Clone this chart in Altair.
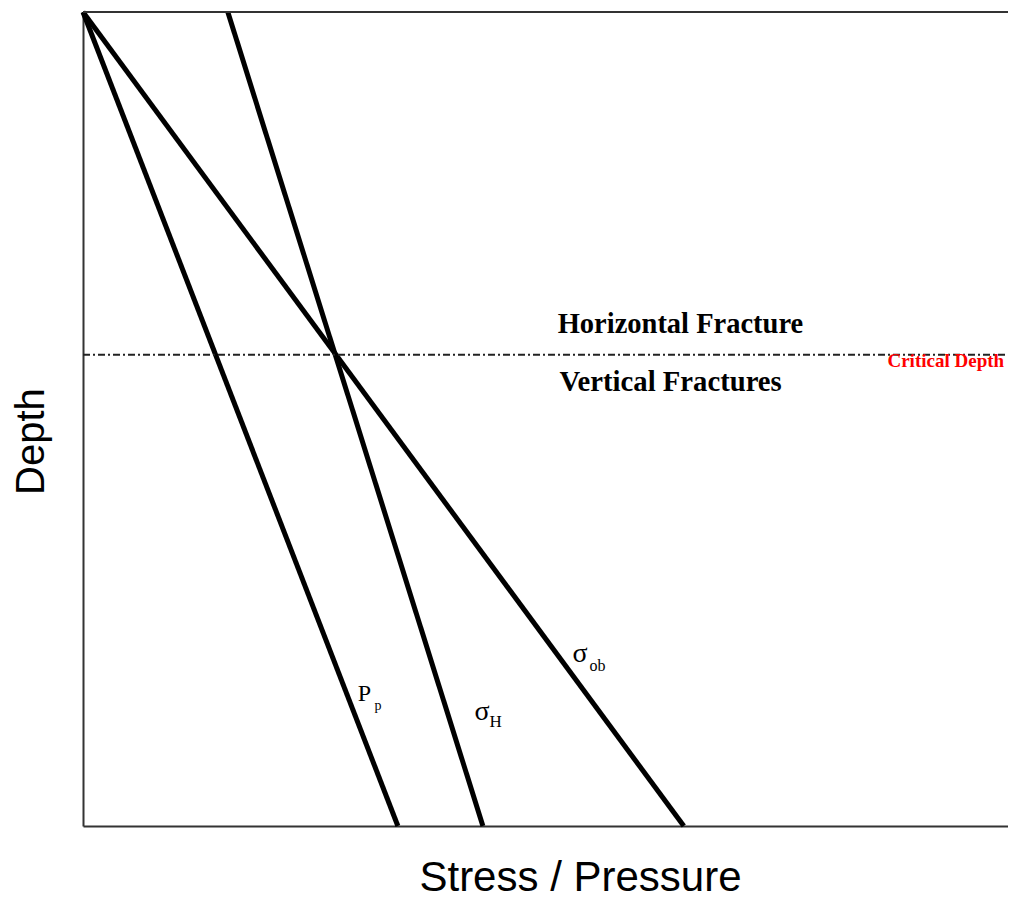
import altair as alt
import pandas as pd

# ---- data ----
series = ["Pp", "sigma_H", "sigma_ob"]
stress_top = [0.0, 15.5, 0.0]        # stress at surface
stress_bottom = [33.7, 42.8, 64.3]   # stress at max depth
depth_top = [0.0, 0.0, 0.0]
depth_bottom = [100.0, 100.0, 100.0]
critical_depth = [42.1]

rows = []
for s, x0, x1, d0, d1 in zip(series, stress_top, stress_bottom, depth_top, depth_bottom):
    rows.append({"series": s, "stress": x0, "depth": d0, "ord": 0})
    rows.append({"series": s, "stress": x1, "depth": d1, "ord": 1})
lines_df = pd.DataFrame(rows)
crit_df = pd.DataFrame({"depth": critical_depth, "x0": [0.0], "x1": [99.0]})

W, H = 925, 814
xs = alt.Scale(domain=[0, 99], nice=False, zero=False)
ys = alt.Scale(domain=[0, 100], reverse=True, nice=False)

xax = alt.Axis(title="Stress / Pressure", labels=False, ticks=False, grid=False,
               domainColor="#333", domainWidth=2,
               titleFont="Liberation Sans", titleFontSize=42, titleFontWeight="normal",
               titleColor="black", titleBaseline="alphabetic", titleAlign="center",
               titleX=497, titleY=64)
yax = alt.Axis(title="Depth", labels=False, ticks=False, grid=False,
               domainColor="#333", domainWidth=2,
               titleFont="Liberation Sans", titleFontSize=40, titleFontWeight="normal",
               titleColor="black", titleBaseline="alphabetic", titleAlign="center",
               titleAngle=270, titleX=-40, titleY=429)

lines = alt.Chart(lines_df).mark_line(color="black", strokeWidth=5).encode(
    x=alt.X("stress:Q", scale=xs, axis=xax),
    y=alt.Y("depth:Q", scale=ys, axis=yax),
    detail="series:N",
    order="ord:Q",
)

crit = alt.Chart(crit_df).mark_rule(color="#222", strokeWidth=2, strokeDash=[7, 3, 2, 3]).encode(
    y=alt.Y("depth:Q", scale=ys),
    x=alt.X("x0:Q", scale=xs),
    x2="x1:Q",
)

top_border = alt.Chart(crit_df).mark_rule(color="#333", strokeWidth=2).encode(
    y=alt.value(0), x=alt.value(0), x2=alt.value(W)
)


def label(text, x, y, size, font="Liberation Serif", weight="normal", color="black"):
    return alt.Chart(crit_df).mark_text(
        text=text, font=font, fontSize=size, fontWeight=weight, color=color,
        align="left", baseline="alphabetic"
    ).encode(x=alt.datum(x), y=alt.datum(y))


texts = [
    label("Horizontal Fracture", 50.8, 39.4, 28.5, weight="bold"),
    label("Vertical Fractures", 51.0, 46.5, 28.7, weight="bold"),
    label("Critical Depth", 86.1, 43.6, 19, weight="bold", color="#ff0000"),
    label("P", 29.4, 84.7, 24),
    label("p", 31.2, 85.7, 14),
    label("σ", 41.9, 87.0, 28),
    label("H", 43.5, 87.8, 17),
    label("σ", 52.4, 79.8, 28),
    label("ob", 54.2, 81.0, 16),
]

chart = alt.layer(lines, crit, top_border, *texts).properties(
    width=W, height=H,
    autosize=alt.AutoSizeParams(type="none"),
    padding={"left": 75, "top": 4, "right": 0, "bottom": 72},
).configure_view(stroke=None).configure_axis(grid=False, labels=False, ticks=False)

chart.save("out.html", embed_options={"renderer": "svg", "actions": False})
